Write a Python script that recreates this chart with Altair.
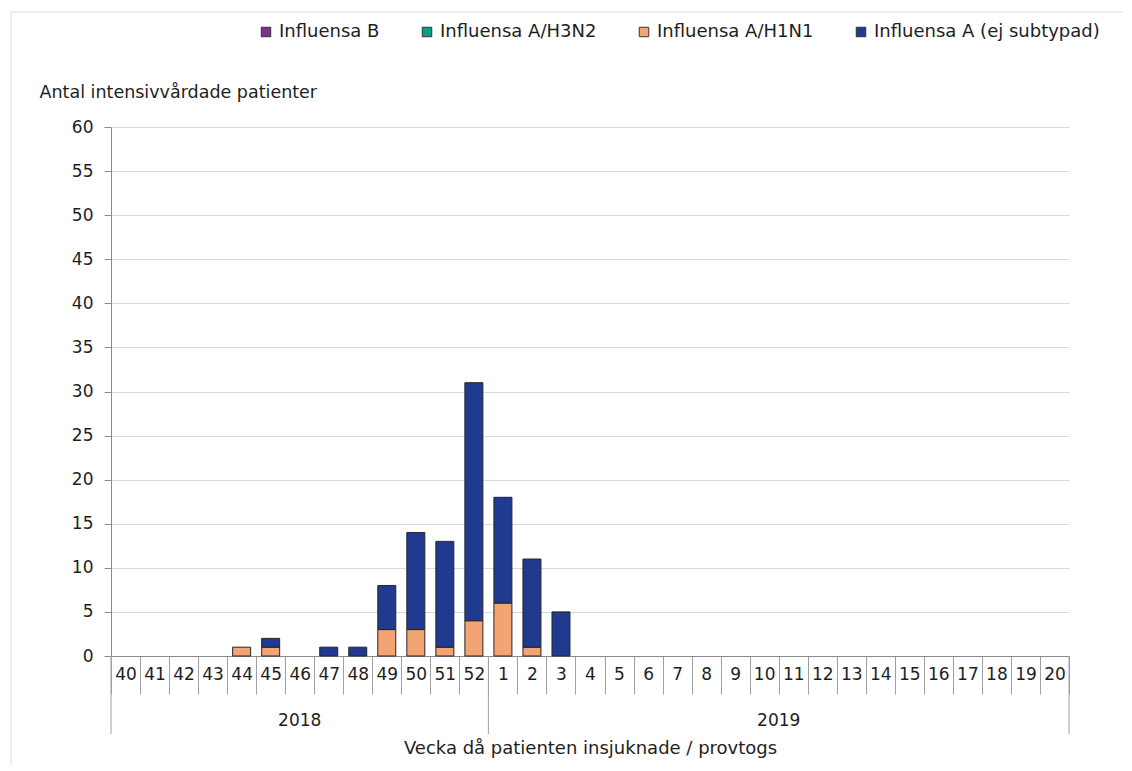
import altair as alt
import pandas as pd

weeks_2018 = ["40", "41", "42", "43", "44", "45", "46", "47", "48", "49", "50", "51", "52"]
weeks_2019 = ["1", "2", "3", "4", "5", "6", "7", "8", "9", "10", "11", "12", "13", "14",
              "15", "16", "17", "18", "19", "20"]
weeks = weeks_2018 + weeks_2019

series = ["Influensa B", "Influensa A/H3N2", "Influensa A/H1N1", "Influensa A (ej subtypad)"]
colors = ["#7b3294", "#00a082", "#f4a372", "#1f3a8f"]
stack_rank = [3, 2, 0, 1]

infl_b = [0] * 33
infl_h3n2 = [0] * 33
infl_h1n1 = [0, 0, 0, 0, 1, 1, 0, 0, 0, 3, 3, 1, 4,
             6, 1, 0, 0, 0, 0, 0, 0, 0, 0, 0, 0, 0, 0, 0, 0, 0, 0, 0, 0]
infl_a = [0, 0, 0, 0, 0, 1, 0, 1, 1, 5, 11, 12, 27,
          12, 10, 5, 0, 0, 0, 0, 0, 0, 0, 0, 0, 0, 0, 0, 0, 0, 0, 0, 0]

years = ["2018", "2019"]
year_weeks = [weeks_2018, weeks_2019]

rows = []
for s, vals, r in zip(series, [infl_b, infl_h3n2, infl_h1n1, infl_a], stack_rank):
    for w, v in zip(weeks, vals):
        rows.append({"week": w, "series": s, "value": v, "rank": r})
df = pd.DataFrame(rows)
df = df[df["value"] > 0]

bounds = []
centres = []
start = 0
for y, wl in zip(years, year_weeks):
    bounds.append(start)
    centres.append({"year": y, "pos": start + len(wl) / 2})
    start += len(wl)
bounds.append(start)
bound_df = pd.DataFrame({"pos": bounds})
centre_df = pd.DataFrame(centres)

FONT = "'DejaVu Sans', sans-serif"
FS = 17
FS_T = 17.5
TXT = "#1e1e1e"
W, H = 958, 529

bars = alt.Chart(df).mark_bar(
    width={"band": 0.62}, stroke="#262626", strokeWidth=1
).encode(
    x=alt.X("week:N", sort=weeks,
            scale=alt.Scale(domain=weeks, paddingInner=0, paddingOuter=0),
            axis=alt.Axis(title="Vecka då patienten insjuknade / provtogs",
                          titleFontSize=18, titleFontWeight="normal", titleColor=TXT,
                          titleFont=FONT, titleY=92, titleBaseline="middle",
                          labelAngle=0, labelFontSize=FS, labelFont=FONT, labelColor=TXT,
                          labelBaseline="middle", labelPadding=-20, labelOverlap=False,
                          tickBand="extent", tickSize=38, tickColor="#a0a0a0",
                          domainColor="#8a8a8a", grid=False)),
    y=alt.Y("value:Q", stack="zero",
            scale=alt.Scale(domain=[0, 60], nice=False),
            axis=alt.Axis(title="Antal intensivvårdade patienter",
                          titleAngle=0, titleAlign="left", titleX=-72, titleY=-35,
                          titleBaseline="middle", titleFontSize=FS_T,
                          titleFontWeight="normal", titleColor=TXT, titleFont=FONT,
                          values=list(range(0, 61, 5)), labelFontSize=FS,
                          labelFont=FONT, labelColor=TXT, labelPadding=11,
                          tickSize=7, tickColor="#8a8a8a", domainColor="#8a8a8a",
                          gridColor="#d9d9d9")),
    color=alt.Color("series:N",
                    scale=alt.Scale(domain=series, range=colors),
                    legend=alt.Legend(title=None, orient="none", legendX=146, legendY=-104,
                                      direction="horizontal", symbolType="square",
                                      symbolSize=90, symbolStrokeColor="#333333",
                                      symbolStrokeWidth=1, labelFontSize=18,
                                      labelFont=FONT, labelColor=TXT, labelOffset=4,
                                      labelLimit=400, columnPadding=38)),
    order=alt.Order("rank:Q"),
)

xq = alt.X("pos:Q", scale=alt.Scale(domain=[0, start], nice=False, zero=False), axis=None)

year_rules = alt.Chart(bound_df).mark_rule(color="#a0a0a0", strokeWidth=1).encode(
    x=xq, y=alt.value(H), y2=alt.value(H + 78)
)
year_text = alt.Chart(centre_df).mark_text(
    fontSize=FS, font=FONT, color=TXT, baseline="middle"
).encode(x=xq, y=alt.value(H + 65), text="year:N")

frame_top = alt.Chart(bound_df.head(1)).mark_rule(color="#d9d9d9").encode(
    x=alt.value(-100), x2=alt.value(1012), y=alt.value(-115)
)
frame_left = alt.Chart(bound_df.head(1)).mark_rule(color="#d9d9d9").encode(
    x=alt.value(-100), y=alt.value(-115), y2=alt.value(637)
)

chart = alt.layer(bars, year_rules, year_text, frame_top, frame_left).resolve_scale(
    x="independent"
).properties(
    width=W, height=H,
    padding={"left": 2, "top": 3, "right": 0, "bottom": 0},
).configure_view(stroke=None)

chart.save("out.html", embed_options={"renderer": "svg", "actions": False})
